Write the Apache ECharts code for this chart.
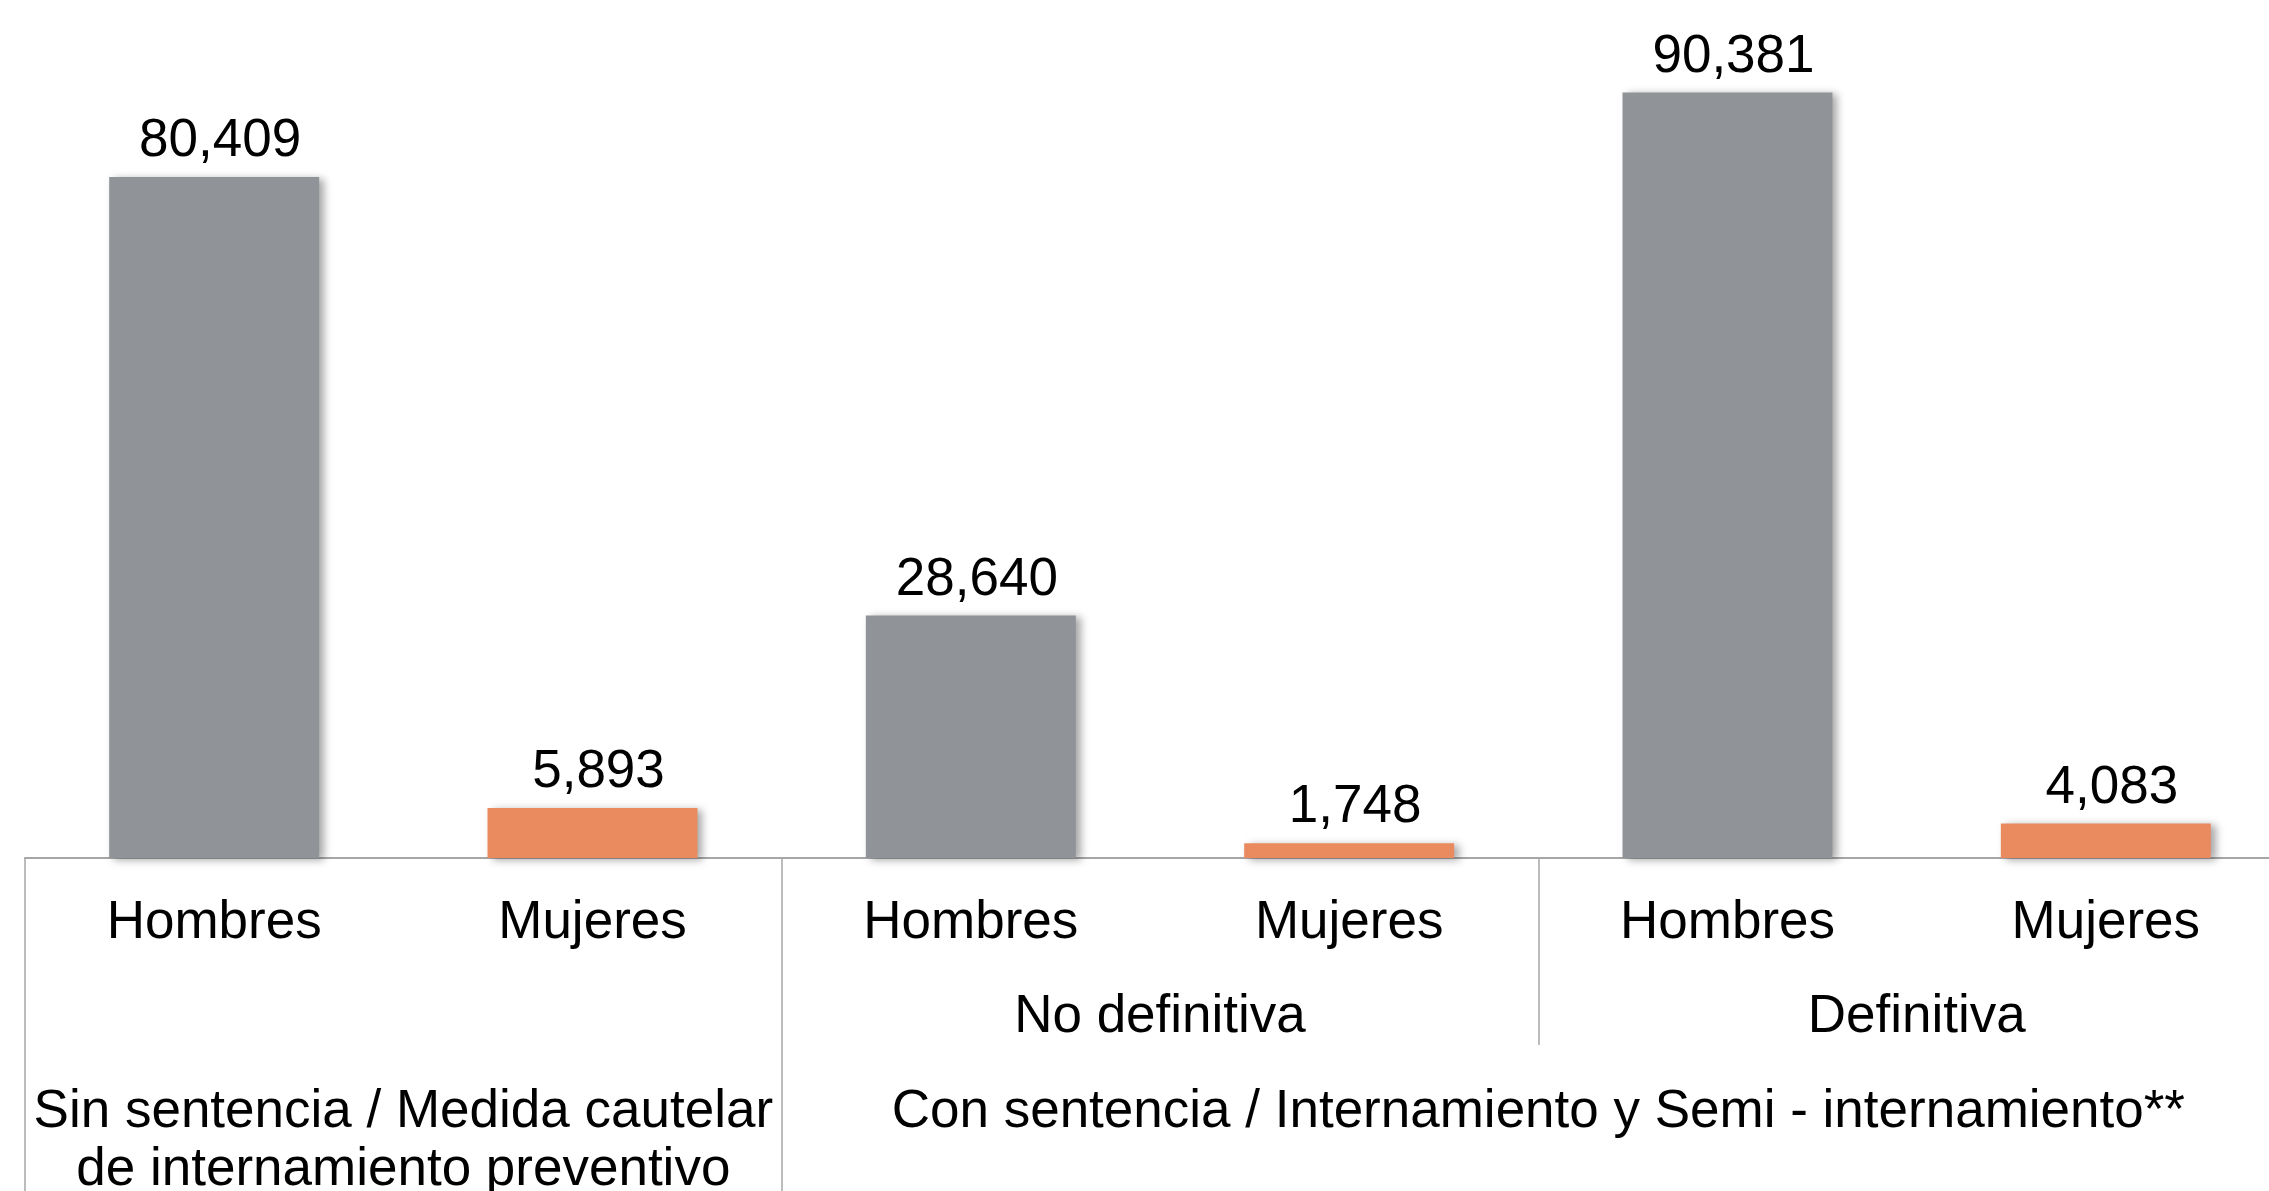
<!DOCTYPE html>
<html><head><meta charset="utf-8">
<script src="https://cdn.jsdelivr.net/npm/echarts@6/dist/echarts.min.js"></script>
<style>html,body{margin:0;padding:0;background:#fff}#c{width:2269px;height:1191px}</style>
</head><body><div id="c"></div>
<script>
// ---- data ----
const categories = ['Hombres', 'Mujeres', 'Hombres', 'Mujeres', 'Hombres', 'Mujeres'];
const values = [80409, 5893, 28640, 1748, 90381, 4083];
const subGroups = ['No definitiva', 'Definitiva'];
const subGroupPos = [3, 5];          // centre of each pair of categories (category units)
const mainGroups = ['Sin sentencia / Medida cautelar\nde internamiento preventivo',
                    'Con sentencia / Internamiento y Semi - internamiento**'];
const mainGroupPos = [1, 4];
const mainBounds = [0, 2];           // long separator lines
const subBounds = [4];               // short separator line
const colors = { Hombres: '#909498', Mujeres: '#E98B5F' };

const FONT = '"Liberation Sans", Arial, sans-serif';
const GRAY = '#a6a6a6';

const chart = echarts.init(document.getElementById('c'));
chart.setOption({
  animation: false,
  backgroundColor: '#fff',
  grid: { left: 25, top: 11, width: 2270, height: 847, containLabel: false, outerBoundsMode: 'none' },
  yAxis: { type: 'value', min: 0, max: 100000, show: false },
  xAxis: [
    {
      type: 'category', data: categories, position: 'bottom',
      axisLine: { show: true, lineStyle: { color: GRAY, width: 2 } },
      axisTick: { show: false },
      axisLabel: { interval: 0, fontSize: 53, color: '#000', fontFamily: FONT, margin: 39 }
    },
    {
      type: 'value', min: 0, max: 6, position: 'bottom',
      axisLine: { show: false }, splitLine: { show: false },
      axisTick: { show: true, customValues: mainBounds, length: 333, lineStyle: { color: GRAY, width: 1.5 } },
      axisLabel: {
        customValues: mainGroupPos, fontSize: 53, lineHeight: 58, color: '#000', fontFamily: FONT, margin: 225,
        formatter: v => mainGroups[mainGroupPos.indexOf(v)] || ''
      }
    },
    {
      type: 'value', min: 0, max: 6, position: 'bottom',
      axisLine: { show: false }, splitLine: { show: false },
      axisTick: { show: true, customValues: subBounds, length: 187, lineStyle: { color: GRAY, width: 1.5 } },
      axisLabel: {
        customValues: subGroupPos, fontSize: 53, color: '#000', fontFamily: FONT, margin: 133,
        formatter: v => subGroups[subGroupPos.indexOf(v)] || ''
      }
    }
  ],
  series: [{
    type: 'bar', xAxisIndex: 0, data: values, barWidth: '55.5%',
    itemStyle: {
      color: p => colors[categories[p.dataIndex]],
      shadowColor: 'rgba(0,0,0,0.35)', shadowBlur: 8, shadowOffsetX: 5, shadowOffsetY: 2
    },
    label: {
      show: true, position: 'top', distance: 9, offset: [6, 0], fontSize: 53, color: '#000', fontFamily: FONT,
      formatter: p => p.value.toLocaleString('en-US')
    }
  }]
});
</script></body></html>
